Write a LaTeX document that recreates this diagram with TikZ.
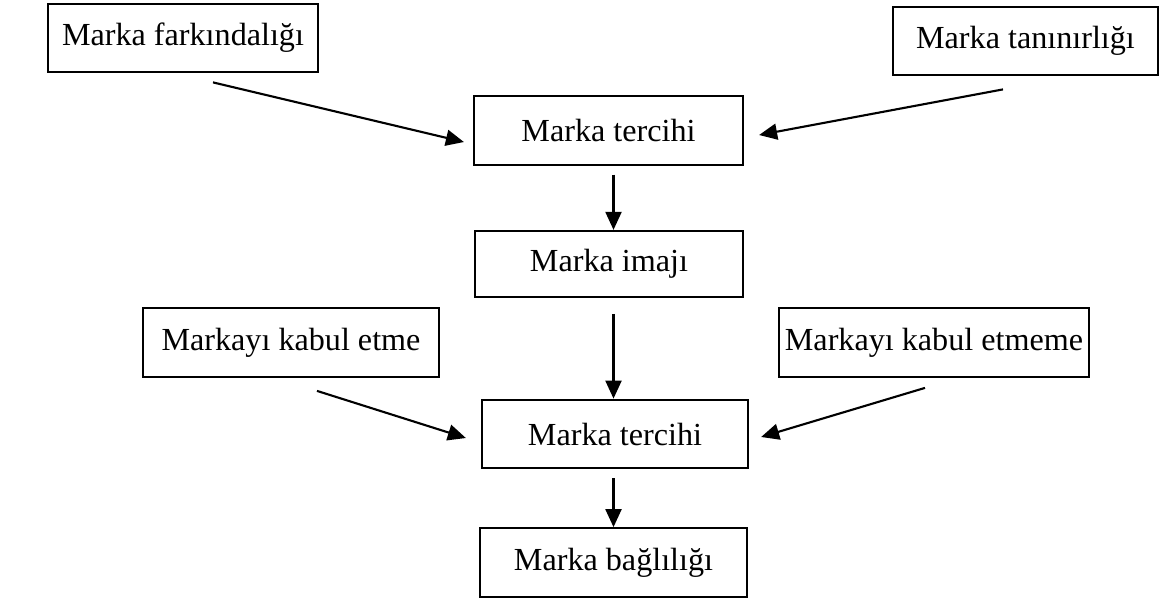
\documentclass[tikz,border=0pt]{standalone}
\usepackage{fontspec}
\setmainfont{Liberation Serif}
\usetikzlibrary{arrows.meta}

\begin{document}
\begin{tikzpicture}[x=0.02cm,y=-0.02cm,
	kutu/.style={draw,line width=1.3pt,inner sep=0pt,minimum height=1.37cm,
		font=\fontsize{18.3}{22}\selectfont},
	ok/.style={line width=1.2pt,-{Triangle[length=0.36cm,width=0.32cm]}}]

	\useasboundingbox (0,0) rectangle (1160,600);

	\node[kutu,minimum width=5.4cm] (far) at (183,38) {Marka farkındalığı};
	\node[kutu,minimum width=5.3cm] (tan) at (1025.5,41) {Marka tanınırlığı};
	\node[kutu,minimum width=5.38cm] (t1) at (608.5,130.5) {Marka tercihi};
	\node[kutu,minimum width=5.36cm,minimum height=1.32cm] (im) at (609,264) {Marka imajı};
	\node[kutu,minimum width=5.92cm] (ke) at (291,342.5) {Markayı kabul etme};
	\node[kutu,minimum width=6.2cm] (kem) at (934,342.5) {Markayı kabul etmeme};
	\node[kutu,minimum width=5.32cm] (t2) at (615,434) {Marka tercihi};
	\node[kutu,minimum width=5.34cm] (bag) at (613.5,562.5) {Marka bağlılığı};

	% oklar
	\draw[ok] ([shift={(30,9)}]far.south) -- ([shift={(-9,11.5)}]t1.west);
	\draw[ok] ([shift={(-22.5,13)}]tan.south) -- ([shift={(15,4.5)}]t1.east);
	\draw[ok] ([shift={(26,13)}]ke.south) -- ([shift={(-15,4)}]t2.west);
	\draw[ok] ([shift={(-9,10)}]kem.south) -- ([shift={(12,3)}]t2.east);

	\draw[ok] ([yshift=-5]t1.south -| bag) -- (im.north -| bag);
	\draw[ok] ([yshift=-9]im.south -| bag) -- (t2.north -| bag);
	\draw[ok] ([yshift=-5]t2.south -| bag) -- (bag.north);

\end{tikzpicture}
\end{document}
